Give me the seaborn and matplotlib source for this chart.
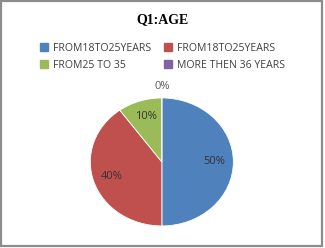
import matplotlib
matplotlib.use('Agg')
import matplotlib.pyplot as plt
from matplotlib.patches import Patch, Rectangle
import seaborn as sns

# data
categories = ['FROM18TO25YEARS', 'FROM18TO25YEARS', 'FROM25 TO 35', 'MORE THEN 36 YEARS']
shares = [50, 40, 10, 0]
colors = ['#4F81BD', '#C0504D', '#9BBB59', '#8064A2']

sns.set_theme(style='white')
plt.rcParams['font.family'] = ['Open Sans', 'DejaVu Sans']

fig = plt.figure(figsize=(3.25, 2.48), dpi=100)

# frame around the chart
fig.patches.append(Rectangle((0.002, 0.008), 0.988, 0.986, transform=fig.transFigure,
                             fill=False, edgecolor='#8C8C8C', linewidth=1.6))

fig.text(0.5, 0.92, 'Q1:AGE', ha='center', va='center', fontsize=10,
         fontweight='bold', family='Liberation Serif', color='black')

# legend fills row by row in the reference
order = [0, 2, 1, 3]
handles = [Patch(facecolor=colors[i], edgecolor=colors[i]) for i in order]
labels = [categories[i] for i in order]
fig.legend(handles, labels, loc='upper center', bbox_to_anchor=(0.5, 0.865), ncol=2,
           frameon=False, fontsize=7.6, handlelength=0.75, handleheight=0.75,
           handletextpad=0.5, columnspacing=1.2, labelspacing=0.55, labelcolor='#404040')

ax = fig.add_axes([0.278, 0.089, 0.44, 0.516])
wedges, texts, autotexts = ax.pie(shares, colors=colors, startangle=90, counterclock=False,
                                  autopct='%d%%', pctdistance=0.74,
                                  wedgeprops=dict(edgecolor='white', linewidth=0.6),
                                  textprops=dict(fontsize=8, color='#333333'))
# the empty slice gets its label outside the pie
autotexts[3].set_position((0, 1.18))
autotexts[3].set_color('#595959')
ax.set_aspect('auto')
ax.set_xlim(-1, 1)
ax.set_ylim(-1, 1)
ax.axis('off')

fig.savefig('out.png', dpi=100)
